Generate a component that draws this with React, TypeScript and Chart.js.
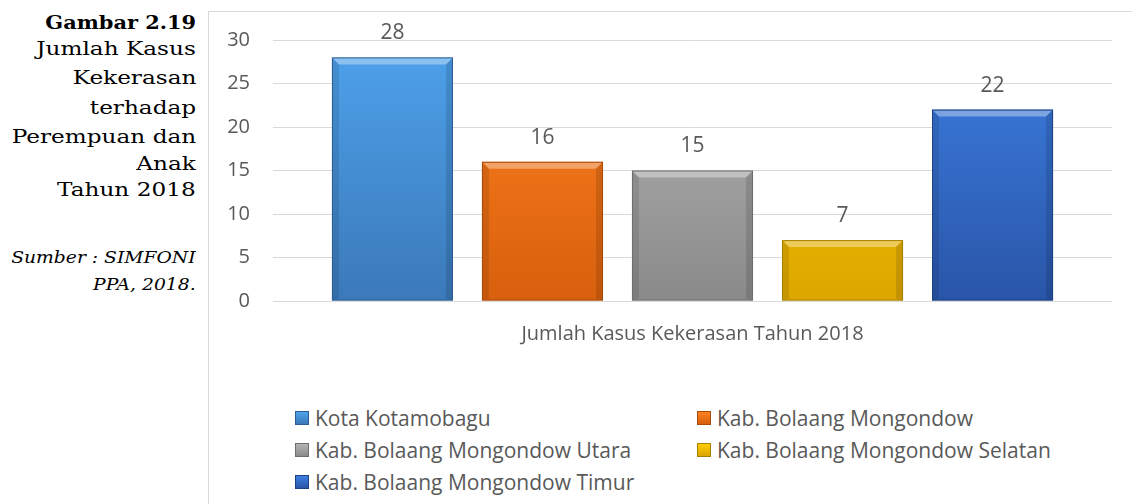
import React, { useEffect, useRef } from "react";
import { Chart, registerables } from "chart.js";

Chart.register(...registerables);

const categories = ["Jumlah Kasus Kekerasan Tahun 2018"];
const seriesNames = [
  "Kota Kotamobagu",
  "Kab. Bolaang Mongondow",
  "Kab. Bolaang Mongondow Utara",
  "Kab. Bolaang Mongondow Selatan",
  "Kab. Bolaang Mongondow Timur",
];
const seriesValues = [28, 16, 15, 7, 22];
const yTicks = [0, 5, 10, 15, 20, 25, 30];
const topColors = ["#4ea2ec", "#ff801f", "#b4b4b4", "#ffcc00", "#3d7fe2"];
const bottomColors = ["#3b79b9", "#d8600d", "#8a8a8a", "#dca600", "#2955a8"];
const edgeColors = ["#2c5f93", "#a94a0a", "#6e6e6e", "#a88000", "#1f4183"];

const FONT = "'Open Sans', sans-serif";
const TEXT = "#595959";

const bevelPlugin = {
  id: "bevel",
  afterDatasetsDraw(chart: any) {
    const ctx = chart.ctx;
    chart.data.datasets.forEach((ds: any, i: number) => {
      const meta = chart.getDatasetMeta(i);
      meta.data.forEach((bar: any, j: number) => {
        const { x, y, base, width } = bar.getProps(["x", "y", "base", "width"], true);
        const l = x - width / 2;
        const r = x + width / 2;
        const b = 7;
        ctx.save();
        ctx.beginPath();
        ctx.moveTo(l, y);
        ctx.lineTo(r, y);
        ctx.lineTo(r - b, y + b);
        ctx.lineTo(l + b, y + b);
        ctx.closePath();
        ctx.fillStyle = "rgba(255,255,255,0.35)";
        ctx.fill();
        ctx.beginPath();
        ctx.moveTo(l, y);
        ctx.lineTo(l + b, y + b);
        ctx.lineTo(l + b, base - 2);
        ctx.lineTo(l, base);
        ctx.closePath();
        ctx.fillStyle = "rgba(0,0,0,0.10)";
        ctx.fill();
        ctx.beginPath();
        ctx.moveTo(r, y);
        ctx.lineTo(r - b, y + b);
        ctx.lineTo(r - b, base - 2);
        ctx.lineTo(r, base);
        ctx.closePath();
        ctx.fillStyle = "rgba(0,0,0,0.12)";
        ctx.fill();
        ctx.strokeStyle = edgeColors[i];
        ctx.lineWidth = 1;
        ctx.strokeRect(l + 0.5, y + 0.5, width - 1, base - y - 1);
        ctx.fillStyle = TEXT;
        ctx.font = `21px ${FONT}`;
        ctx.textAlign = "center";
        ctx.textBaseline = "middle";
        ctx.fillText(String(ds.data[j]), x, y - 24);
        ctx.restore();
      });
    });
  },
};

export default function App() {
  const ref = useRef<HTMLCanvasElement | null>(null);

  useEffect(() => {
    document.body.style.margin = "0";
    const canvas = ref.current!;
    const chart = new Chart(canvas, {
      type: "bar",
      data: {
        labels: categories,
        datasets: seriesNames.map((name, i) => ({
          label: name,
          data: [seriesValues[i]],
          backgroundColor: (c: any) => {
            const ca = c.chart.chartArea;
            if (!ca) return topColors[i];
            const g = c.chart.ctx.createLinearGradient(0, ca.top, 0, ca.bottom);
            g.addColorStop(0, topColors[i]);
            g.addColorStop(1, bottomColors[i]);
            return g;
          },
          borderWidth: 0,
          categoryPercentage: 0.894,
          barPercentage: 0.807,
        })),
      },
      options: {
        animation: false,
        responsive: false,
        maintainAspectRatio: false,
        layout: { padding: { top: 28, right: 20, left: 0, bottom: 0 } },
        plugins: { legend: { display: false }, tooltip: { enabled: false } },
        scales: {
          x: {
            grid: { display: false, drawTicks: false },
            border: { display: false },
            ticks: { color: TEXT, font: { family: FONT, size: 20 }, padding: 21 },
            afterFit: (s: any) => {
              s.height = 71;
            },
          },
          y: {
            min: 0,
            max: 30,
            afterBuildTicks: (s: any) => {
              s.ticks = yTicks.map((v) => ({ value: v }));
            },
            grid: { color: "#d9d9d9", drawTicks: false, lineWidth: 1 },
            border: { display: false },
            ticks: { color: TEXT, font: { family: FONT, size: 20 }, padding: 23 },
            afterFit: (s: any) => {
              s.width = 64;
              s.paddingTop = 0;
              s.paddingBottom = 0;
            },
          },
        },
      },
      plugins: [bevelPlugin],
    } as any);
    return () => chart.destroy();
  }, []);

  const serif = "'DejaVu Serif', serif";
  const legendItem = (i: number, left: number, centerY: number) => (
    <div
      key={i}
      style={{
        position: "absolute",
        left,
        top: centerY - 15,
        height: 30,
        display: "flex",
        alignItems: "center",
        fontFamily: FONT,
        fontSize: 21,
        color: TEXT,
        whiteSpace: "nowrap",
      }}
    >
      <span
        style={{
          display: "inline-block",
          width: 14,
          height: 14,
          marginRight: 6,
          background: `linear-gradient(${topColors[i]}, ${bottomColors[i]})`,
          border: `1px solid ${edgeColors[i]}`,
          boxSizing: "border-box",
        }}
      />
      {seriesNames[i]}
    </div>
  );

  const line = (text: string, top: number, opts: any = {}) => (
    <div
      style={{
        position: "absolute",
        right: 936,
        top,
        whiteSpace: "nowrap",
        fontFamily: serif,
        fontSize: opts.size ?? 19,
        fontWeight: opts.bold ? "bold" : "normal",
        fontStyle: opts.italic ? "italic" : "normal",
        lineHeight: "28px",
        color: "#000",
        transform: `scaleX(${opts.sx ?? 1.22})`,
        transformOrigin: "right center",
      }}
    >
      {text}
    </div>
  );

  return (
    <div style={{ position: "relative", width: 1132, height: 504, overflow: "hidden", background: "#fff" }}>
      {line("Gambar 2.19", 8, { bold: true, sx: 1.1 })}
      {line("Jumlah Kasus", 34)}
      {line("Kekerasan", 63)}
      {line("terhadap", 93)}
      {line("Perempuan dan", 122)}
      {line("Anak", 149)}
      {line("Tahun 2018", 175)}
      {line("Sumber : SIMFONI", 244, { italic: true, size: 16, sx: 1.17 })}
      {line("PPA, 2018.", 271, { italic: true, size: 16, sx: 1.17 })}
      <div
        style={{
          position: "absolute",
          left: 208,
          top: 11,
          width: 1000,
          height: 600,
          border: "1px solid #d9d9d9",
        }}
      />
      <canvas
        ref={ref}
        width={923}
        height={360}
        style={{ position: "absolute", left: 209, top: 12, width: 923, height: 360 }}
      />
      {legendItem(0, 295, 418)}
      {legendItem(1, 697, 418)}
      {legendItem(2, 295, 450)}
      {legendItem(3, 697, 450)}
      {legendItem(4, 295, 482)}
    </div>
  );
}
